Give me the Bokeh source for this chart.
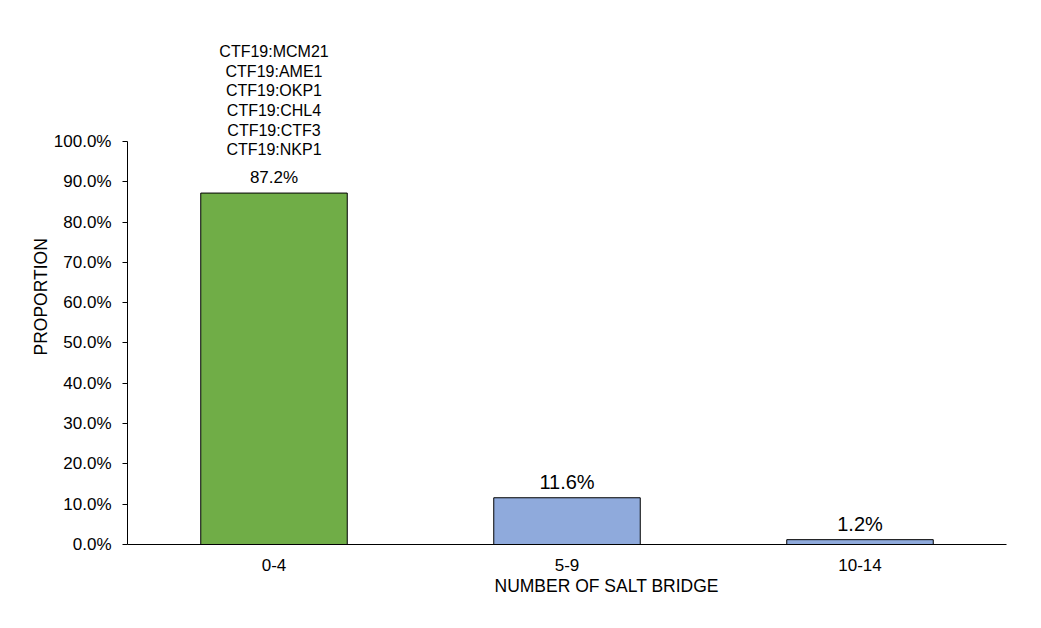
from bokeh.plotting import figure
from bokeh.models import ColumnDataSource, Range1d, NumeralTickFormatter, FixedTicker, Title
from bokeh.core.properties import value
from bokeh.embed import file_html
from bokeh.resources import INLINE

categories = ["0-4", "5-9", "10-14"]
proportions = [0.872, 0.116, 0.012]
value_labels = ["87.2%", "11.6%", "1.2%"]
bar_colors = ["#70AD47", "#8FAADC", "#8FAADC"]
label_sizes = ["17px", "20px", "20px"]
annotation_lines = ["CTF19:MCM21", "CTF19:AME1", "CTF19:OKP1", "CTF19:CHL4", "CTF19:CTF3", "CTF19:NKP1"]
y_ticks = [i / 10 for i in range(11)]
x_title = "NUMBER OF SALT BRIDGE"
y_title = "PROPORTION"

FONT = "Liberation Sans"
W, H = 1025, 612

src = ColumnDataSource(dict(cat=categories, val=proportions, lab=value_labels,
                            color=bar_colors, size=label_sizes))

p = figure(x_range=categories, y_range=Range1d(0, 1.2754), width=W, height=H,
           output_backend="svg", toolbar_location=None,
           min_border_left=127, min_border_right=19, min_border_top=30, min_border_bottom=68)
p.outline_line_color = None
p.xgrid.grid_line_color = None
p.ygrid.grid_line_color = None
p.x_range.range_padding = 0

p.vbar(x="cat", top="val", width=0.5, source=src, fill_color="color",
       line_color="black", line_width=1)

p.text(x="cat", y="val", text="lab", source=src, text_font=value(FONT),
       text_font_size="size", text_align="center", text_baseline="middle",
       y_offset=-16, text_color="black")

ann = ColumnDataSource(dict(cat=[categories[0]], val=[proportions[0]], txt=["\n".join(annotation_lines)]))
p.text(x="cat", y="val", text="txt", source=ann, text_font=value(FONT),
       text_font_size="16px", text_align="center", text_baseline="bottom",
       text_line_height=1.15, y_offset=-35, text_color="black")

p.yaxis.bounds = (0, 1)
p.yaxis.ticker = FixedTicker(ticks=y_ticks)
p.yaxis.formatter = NumeralTickFormatter(format="0.0%")
p.yaxis.minor_tick_line_color = None
p.yaxis.major_tick_in = 0
p.yaxis.major_tick_out = 5
p.yaxis.major_tick_line_color = "black"
p.yaxis.major_label_standoff = 11

p.xaxis.major_tick_line_color = None
p.xaxis.minor_tick_line_color = None
p.xaxis.major_label_standoff = 8

for ax in (p.xaxis, p.yaxis):
    ax.axis_line_color = "black"
    ax.major_label_text_font = FONT
    ax.major_label_text_font_size = "17px"
    ax.major_label_text_color = "black"

p.add_layout(Title(text=x_title, align="left", offset=367, standoff=0,
                   text_font=FONT, text_font_size="17.5px", text_font_style="normal",
                   text_color="black"), "below")
p.add_layout(Title(text=y_title, align="left", offset=189, standoff=0,
                   text_font=FONT, text_font_size="17.5px", text_font_style="normal",
                   text_color="black"), "left")

open("out.html", "w").write(file_html(p, INLINE))
